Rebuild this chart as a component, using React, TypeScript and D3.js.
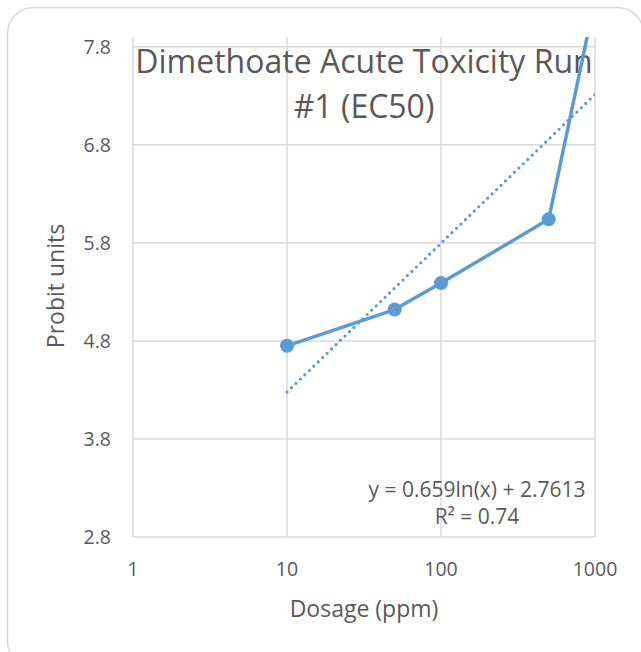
import React from "react";
import * as d3 from "d3";

const dosages = [10, 50, 100, 500, 1000];
const probits = [4.75, 5.12, 5.39, 6.04, 8.28];
const xTicks = [1, 10, 100, 1000];
const yTicks = [2.8, 3.8, 4.8, 5.8, 6.8, 7.8];
const trendSlope = 0.659;
const trendIntercept = 2.7613;
const trendRange = [10, 1000];
const titleLines = ["Dimethoate Acute Toxicity Run", "#1 (EC50)"];
const eqLines = ["y = 0.659ln(x) + 2.7613", "R² = 0.74"];

const W = 641;
const H = 652;
const left = 133;
const right = 595;
const top = 37;
const bottom = 537;
const FONT = "'Open Sans', sans-serif";
const TXT = "#595959";
const BLUE = "#5B9BD5";
const GRID = "#d9d9d9";

export default function App() {
  const x = d3.scaleLog().domain([1, 1000]).range([left, right]);
  const y = d3.scaleLinear().domain([2.8, 7.9]).range([bottom, top]);

  const data = dosages.map((d, i) => ({ x: d, y: probits[i] }));
  const line = d3
    .line<{ x: number; y: number }>()
    .x((d) => x(d.x))
    .y((d) => y(d.y));

  const trendPts = d3.range(0, 101).map((i) => {
    const lx = Math.log(trendRange[0]) + (i / 100) * (Math.log(trendRange[1]) - Math.log(trendRange[0]));
    const xv = Math.exp(lx);
    return { x: xv, y: trendSlope * Math.log(xv) + trendIntercept };
  });

  return (
    <svg width={W} height={H} style={{ display: "block", position: "absolute", left: 0, top: 0 }}>
      <rect x={0} y={0} width={W} height={H} fill="#fff" />
      <rect x={7.5} y={7.5} width={636} height={660} rx={26} fill="#fff" stroke="#d9d9d9" strokeWidth={1.5} />
      <defs>
        <clipPath id="plotclip">
          <rect x={left} y={top} width={right - left} height={bottom - top} />
        </clipPath>
      </defs>
      {yTicks.map((t) => (
        <line key={"gy" + t} x1={left} x2={right} y1={y(t)} y2={y(t)} stroke={GRID} strokeWidth={1.5} />
      ))}
      {xTicks.map((t) => (
        <line key={"gx" + t} x1={x(t)} x2={x(t)} y1={top} y2={bottom} stroke={GRID} strokeWidth={1.5} />
      ))}
      <g fontFamily={FONT} fill={TXT}>
        {titleLines.map((s, i) => (
          <text key={s} x={(left + right) / 2} y={73 + i * 45} textAnchor="middle" fontSize={32}>
            {s}
          </text>
        ))}
      </g>
      <g clipPath="url(#plotclip)">
        <path
          d={line(trendPts) || ""}
          fill="none"
          stroke={BLUE}
          strokeWidth={3.2}
          strokeDasharray="0 6.2"
          strokeLinecap="round"
        />
        <path d={line(data) || ""} fill="none" stroke={BLUE} strokeWidth={3.5} strokeLinejoin="round" />
        {data.map((d) => (
          <circle key={d.x} cx={x(d.x)} cy={y(d.y)} r={7} fill={BLUE} />
        ))}
      </g>
      <g fontFamily={FONT} fill={TXT} fontSize={19.5}>
        {yTicks.map((t) => (
          <text key={"ty" + t} x={111} y={y(t)} dy="0.35em" textAnchor="end">
            {t.toFixed(1)}
          </text>
        ))}
        {xTicks.map((t) => (
          <text key={"tx" + t} x={x(t)} y={576} textAnchor="middle">
            {t}
          </text>
        ))}
      </g>
      <g fontFamily={FONT} fill={TXT} fontSize={21}>
        {eqLines.map((s, i) => (
          <text key={s} x={477} y={497 + i * 27} textAnchor="middle">
            {s}
          </text>
        ))}
      </g>
      <g fontFamily={FONT} fill={TXT} fontSize={23}>
        <text x={(left + right) / 2} y={617} textAnchor="middle">
          Dosage (ppm)
        </text>
        <text transform={`translate(64, 286) rotate(-90)`} textAnchor="middle">
          Probit units
        </text>
      </g>
    </svg>
  );
}
